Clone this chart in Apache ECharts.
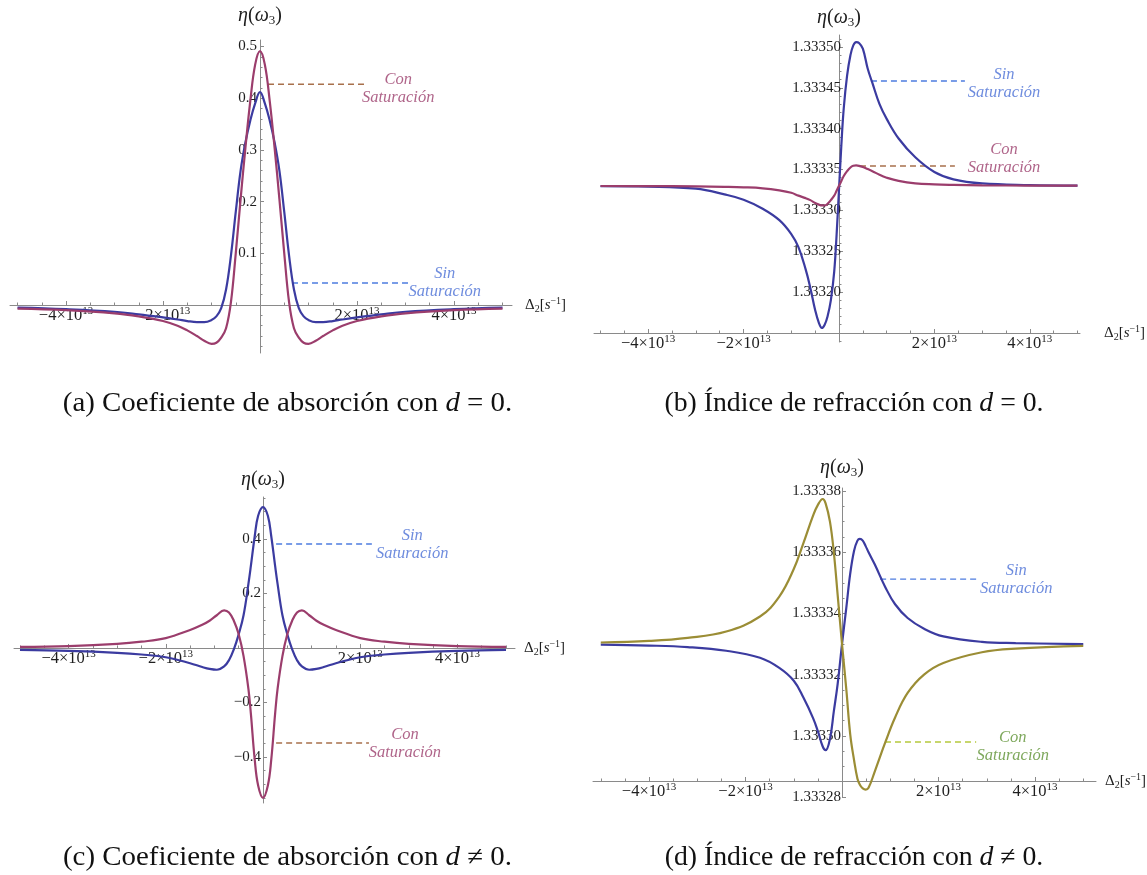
<!DOCTYPE html>
<html><head><meta charset="utf-8">
<script src="https://cdn.jsdelivr.net/npm/echarts@6/dist/echarts.min.js"></script>
<style>html,body{margin:0;padding:0;background:#fff}#c{width:1147px;height:875px}</style>
</head><body><div id="c"></div>
<script>
// ---------- DATA (Delta_2 in units of 1e13 s^-1) ----------
// (a) absorption, d = 0
const xA = [-5,-4,-3,-2.5,-2,-1.7,-1.5,-1.3,-1.15,-1,-0.9,-0.8,-0.7,-0.6,-0.5,-0.4,-0.3,-0.2,-0.1,0,0.1,0.2,0.3,0.4,0.5,0.6,0.7,0.8,0.9,1,1.15,1.3,1.5,1.7,2,2.5,3,4,5];
const sinA = [-0.005,-0.008,-0.013,-0.018,-0.024,-0.028,-0.031,-0.033,-0.033,-0.029,-0.022,-0.006,0.03,0.095,0.18,0.26,0.315,0.357,0.39,0.412,0.39,0.357,0.315,0.26,0.18,0.095,0.03,-0.006,-0.022,-0.029,-0.033,-0.033,-0.031,-0.028,-0.024,-0.018,-0.013,-0.008,-0.005];
const conA = [-0.007,-0.01,-0.016,-0.022,-0.031,-0.04,-0.049,-0.06,-0.069,-0.075,-0.073,-0.063,-0.045,0.005,0.1,0.205,0.305,0.395,0.465,0.491,0.465,0.395,0.305,0.205,0.1,0.005,-0.045,-0.063,-0.073,-0.075,-0.069,-0.06,-0.049,-0.04,-0.031,-0.022,-0.016,-0.01,-0.007];

// (b) refraction index, d = 0
const xB = [-5,-4,-3,-2.4,-2,-1.6,-1.25,-1,-0.85,-0.7,-0.6,-0.5,-0.42,-0.36,-0.3,-0.24,-0.17,-0.1,-0.05,0,0.05,0.1,0.17,0.24,0.3,0.36,0.42,0.5,0.6,0.7,0.85,1,1.25,1.6,2,2.4,3,4,5];
const sinB = [1.3333295,1.333329,1.3333265,1.3333195,1.333313,1.333302,1.333288,1.333271,1.333255,1.333228,1.333205,1.333178,1.333162,1.333156,1.33316,1.33317,1.33319,1.333225,1.33327,1.333325,1.33338,1.333425,1.333465,1.33349,1.333502,1.333506,1.333505,1.333498,1.333474,1.333456,1.33343,1.333412,1.333388,1.333365,1.333347,1.333338,1.333333,1.333331,1.3333303];
const conB = [1.3333298,1.3333297,1.3333294,1.3333288,1.3333282,1.333327,1.3333245,1.3333215,1.333318,1.333315,1.3333125,1.333309,1.333307,1.333306,1.333306,1.333308,1.3333125,1.333318,1.333324,1.33333,1.333336,1.333342,1.333348,1.3333525,1.3333545,1.333355,1.3333545,1.333353,1.3333505,1.333348,1.3333435,1.33334,1.333336,1.333333,1.3333318,1.3333312,1.3333306,1.3333303,1.3333302];

// (c) absorption, d != 0
const xC = [-5,-4,-3,-2.5,-2,-1.5,-1.25,-1.1,-0.95,-0.8,-0.7,-0.6,-0.5,-0.4,-0.3,-0.25,-0.17,-0.1,0,0.1,0.17,0.25,0.3,0.4,0.5,0.6,0.7,0.8,0.95,1.1,1.25,1.5,2,2.5,3,4,5];
const sinC = [-0.007,-0.011,-0.018,-0.024,-0.034,-0.056,-0.07,-0.077,-0.08,-0.068,-0.045,-0.005,0.05,0.12,0.235,0.30,0.41,0.485,0.517,0.485,0.41,0.30,0.235,0.12,0.05,-0.005,-0.045,-0.068,-0.08,-0.077,-0.07,-0.056,-0.034,-0.024,-0.018,-0.011,-0.007];
const conC = [0.004,0.007,0.015,0.023,0.036,0.066,0.085,0.1,0.12,0.138,0.13,0.1,0.05,-0.03,-0.15,-0.24,-0.41,-0.505,-0.55,-0.505,-0.41,-0.24,-0.15,-0.03,0.05,0.1,0.13,0.138,0.12,0.1,0.085,0.066,0.036,0.023,0.015,0.007,0.004];

// (d) refraction index, d != 0
const xD = [-5,-4,-3.2,-2.4,-1.7,-1.3,-1,-0.8,-0.6,-0.5,-0.4,-0.34,-0.25,-0.17,-0.09,0,0.09,0.17,0.25,0.32,0.37,0.43,0.49,0.55,0.68,0.9,1.1,1.36,1.7,2.1,2.9,3.6,5];
const sinD = [1.3333298,1.3333295,1.333329,1.3333278,1.3333255,1.3333222,1.333318,1.3333125,1.3333058,1.3333015,1.3332965,1.3332953,1.333299,1.333308,1.333317,1.33333,1.333342,1.333353,1.3333605,1.3333638,1.3333644,1.3333638,1.333362,1.33336,1.333356,1.3333485,1.333343,1.3333385,1.333335,1.3333325,1.3333307,1.3333303,1.33333];
const conD = [1.3333305,1.333331,1.333332,1.3333341,1.333339,1.3333455,1.3333545,1.333363,1.333372,1.3333755,1.3333774,1.333376,1.33337,1.33336,1.333346,1.33333,1.333315,1.3333005,1.333292,1.333286,1.333284,1.3332828,1.3332824,1.333283,1.3332884,1.333298,1.333306,1.333314,1.33332,1.3333238,1.3333273,1.3333285,1.3333294];

// tick labels
const xTickValues = [-4, -2, 2, 4];
const xTickLabels = ['\u22124\u00d710', '\u22122\u00d710', '2\u00d710', '4\u00d710'];
const xTickExponent = '13';
const yTicksA = [0.1, 0.2, 0.3, 0.4, 0.5];
const yTicksB = [1.3332, 1.33325, 1.3333, 1.33335, 1.3334, 1.33345, 1.3335];
const yTicksC = [-0.4, -0.2, 0.2, 0.4];
const yTicksD = [1.33328, 1.3333, 1.33332, 1.33334, 1.33336, 1.33338];

// annotations (data coordinates)
const notesA = [
  {label: 'Con', x0: 0.165, x1: 2.21, y: 0.427, tx: 2.85, ty: 0.419, kind: 'con'},
  {label: 'Sin', x0: 0.66, x1: 3.07, y: 0.0425, tx: 3.81, ty: 0.0435, kind: 'sin'}
];
const notesB = [
  {label: 'Sin', x0: 0.67, x1: 2.64, y: 1.3334584, tx: 3.46, ty: 1.3334553, kind: 'sin'},
  {label: 'Con', x0: 0.44, x1: 2.43, y: 1.3333543, tx: 3.46, ty: 1.3333629, kind: 'con'}
];
const notesC = [
  {label: 'Sin', x0: 0.27, x1: 2.24, y: 0.3817, tx: 3.07, ty: 0.378, kind: 'sin'},
  {label: 'Con', x0: 0.27, x1: 2.18, y: -0.3486, tx: 2.92, ty: -0.350, kind: 'con'}
];
const notesD = [
  {label: 'Sin', x0: 0.79, x1: 2.78, y: 1.3333512, tx: 3.61, ty: 1.3333511, kind: 'sin'},
  {label: 'Con', x0: 0.89, x1: 2.78, y: 1.333298, tx: 3.54, ty: 1.3332965, kind: 'conD'}
];

const captions = [
  '(a) Coeficiente de absorci\u00f3n con {i|d} = 0.',
  '(b) \u00cdndice de refracci\u00f3n con {i|d} = 0.',
  '(c) Coeficiente de absorci\u00f3n con {i|d} \u2260 0.',
  '(d) \u00cdndice de refracci\u00f3n con {i|d} \u2260 0.'
];

// ---------- STYLE / LAYOUT ----------
const SERIF = '"Liberation Serif", "Times New Roman", serif';
const C_SIN = '#3b3ba0', C_CON = '#9b3d6c', C_COND = '#9b8d35';
const noteStyle = {
  sin:  {text: '#4a6fd6', dash: '#4d7ce0'},
  con:  {text: '#9b3d6c', dash: '#a8704c'},
  conD: {text: '#5d9132', dash: '#b5c93c'}
};
const AX = '#8a8a8a';
const TXT = '#1e1e1e';

const panels = [
  {left: 10, top: 40, width: 502, height: 313, xMin: -5.155, xMax: 5.196, yMin: -0.0928, yMax: 0.5126, xOff: null,
   xs: xA, sin: sinA, con: conA, conColor: C_CON, notes: notesA, yTicks: yTicksA, yMinorStep: 0.02, yFmt: v => v.toFixed(1),
   xNameGap: 13, yNameGap: 13, yLabelMargin: 3},
  {left: 594, top: 35, width: 486, height: 307, xMin: -5.136, xMax: 5.053, yMin: 1.3331388, yMax: 1.3335147, xOff: -9,
   xs: xB, sin: sinB, con: conB, conColor: C_CON, notes: notesB, yTicks: yTicksB, yMinorStep: 0.00001, yFmt: v => v.toFixed(5),
   xNameGap: 24, yNameGap: 6, yLabelMargin: -2},
  {left: 14, top: 497, width: 501, height: 306, xMin: -5.123, xMax: 5.185, yMin: -0.569, yMax: 0.554, xOff: null,
   xs: xC, sin: sinC, con: conC, conColor: C_CON, notes: notesC, yTicks: yTicksC, yMinorStep: 0.05,
   yFmt: v => (v < 0 ? '\u2212' : '') + Math.abs(v).toFixed(1),
   xNameGap: 9, yNameGap: 6, yLabelMargin: 2},
  {left: 593, top: 488, width: 503, height: 309, xMin: -5.161, xMax: 5.264, yMin: 1.33328, yMax: 1.333381, xOff: -16,
   xs: xD, sin: sinD, con: conD, conColor: C_COND, notes: notesD, yTicks: yTicksD, yMinorStep: 0.000005, yFmt: v => v.toFixed(5),
   xNameGap: 9, yNameGap: 9, yLabelMargin: 1}
];

function steps(a, b, s, exclude) {
  const out = [];
  const n = Math.round((b - a) / s);
  for (let i = 0; i <= n; i++) {
    const v = +(a + i * s).toFixed(8);
    if (!exclude.some(e => Math.abs(e - v) < s / 10) && Math.abs(v) > s / 10) out.push(v);
  }
  return out;
}

const grids = [], xAxes = [], yAxes = [], series = [];
const tickLine = {color: AX, width: 1};

panels.forEach((p, g) => {
  grids.push({left: p.left, top: p.top, width: p.width, height: p.height, containLabel: false, outerBoundsMode: 'none'});
  // axis crossing positions (Mathematica style axes through the origin)
  const zeroX = p.left + (0 - p.xMin) / (p.xMax - p.xMin) * p.width;
  const yOff = -(zeroX - p.left);
  let xOff = p.xOff;
  if (xOff === null) {
    const zeroY = p.top + (p.yMax - 0) / (p.yMax - p.yMin) * p.height;
    xOff = -(p.top + p.height - zeroY);
  }
  const xMinor = steps(-5, 5, 0.5, xTickValues);
  const yLo = Math.ceil(p.yMin / p.yMinorStep) * p.yMinorStep;
  const yMinor = steps(yLo, p.yMax, p.yMinorStep, p.yTicks).filter(v => v >= p.yMin && v <= p.yMax);
  xAxes.push({
    gridIndex: g, type: 'value', min: p.xMin, max: p.xMax, position: 'bottom', offset: xOff,
    axisLine: {show: true, onZero: false, lineStyle: {color: AX, width: 1}},
    axisTick: {show: true, inside: true, length: 4, customValues: xTickValues, lineStyle: tickLine},
    axisLabel: {show: true, margin: 1, customValues: xTickValues,
      formatter: v => { const i = xTickValues.indexOf(Math.round(v)); return '{b|' + xTickLabels[i] + '}{s|' + xTickExponent + '}'; },
      rich: {b: {fontFamily: SERIF, fontSize: 16.5, color: TXT, lineHeight: 18, verticalAlign: 'bottom'},
             s: {fontFamily: SERIF, fontSize: 11, color: TXT, lineHeight: 18, verticalAlign: 'top'}}},
    splitLine: {show: false},
    name: '{n|\u0394}{sub|2}{n|[}{i|s}{sup|\u22121}{n|]}', nameLocation: 'end', nameGap: p.xNameGap, nameMoveOverlap: false,
    nameTextStyle: {rich: {
      n: {fontFamily: SERIF, fontSize: 15, color: TXT, lineHeight: 18},
      i: {fontFamily: SERIF, fontSize: 15, fontStyle: 'italic', color: TXT, lineHeight: 18},
      sub: {fontFamily: SERIF, fontSize: 10, color: TXT, lineHeight: 18, verticalAlign: 'bottom'},
      sup: {fontFamily: SERIF, fontSize: 10, color: TXT, lineHeight: 18, verticalAlign: 'top'}}}
  });
  xAxes.push({
    gridIndex: g, type: 'value', min: p.xMin, max: p.xMax, position: 'bottom', offset: xOff,
    axisLine: {show: false, onZero: false},
    axisTick: {show: true, inside: true, length: 2.5, customValues: xMinor, lineStyle: tickLine},
    axisLabel: {show: false}, splitLine: {show: false}
  });
  yAxes.push({
    gridIndex: g, type: 'value', min: p.yMin, max: p.yMax, position: 'left', offset: yOff,
    axisLine: {show: true, onZero: false, lineStyle: {color: AX, width: 1}},
    axisTick: {show: true, inside: true, length: 4, customValues: p.yTicks, lineStyle: tickLine},
    axisLabel: {show: true, margin: p.yLabelMargin, customValues: p.yTicks, formatter: p.yFmt,
      fontFamily: SERIF, fontSize: 15, color: TXT},
    splitLine: {show: false},
    name: '{i|\u03b7}{n|(}{i|\u03c9}{sub|3}{n|)}', nameLocation: 'end', nameGap: p.yNameGap, nameMoveOverlap: false,
    nameTextStyle: {rich: {
      n: {fontFamily: SERIF, fontSize: 20, color: TXT, lineHeight: 22},
      i: {fontFamily: SERIF, fontSize: 20, fontStyle: 'italic', color: TXT, lineHeight: 22},
      sub: {fontFamily: SERIF, fontSize: 13, color: TXT, lineHeight: 22, verticalAlign: 'bottom'}}}
  });
  yAxes.push({
    gridIndex: g, type: 'value', min: p.yMin, max: p.yMax, position: 'left', offset: yOff,
    axisLine: {show: false, onZero: false},
    axisTick: {show: true, inside: true, length: 2.5, customValues: yMinor, lineStyle: tickLine},
    axisLabel: {show: false}, splitLine: {show: false}
  });

  const line = (ys, color) => ({
    type: 'line', xAxisIndex: 2 * g, yAxisIndex: 2 * g, data: p.xs.map((x, i) => [x, ys[i]]),
    smooth: 0.4, symbol: 'none', showSymbol: false, silent: true, clip: false,
    lineStyle: {color: color, width: 2.2}, z: 3
  });
  series.push(line(p.sin, C_SIN));
  series.push(line(p.con, p.conColor));

  p.notes.forEach(n => {
    const st = noteStyle[n.kind];
    series.push({
      type: 'line', xAxisIndex: 2 * g, yAxisIndex: 2 * g, data: [[n.x0, n.y], [n.x1, n.y]],
      symbol: 'none', silent: true, lineStyle: {color: st.dash, width: 1.4, type: [6, 4]}, z: 2
    });
    series.push({
      type: 'scatter', xAxisIndex: 2 * g, yAxisIndex: 2 * g, data: [[n.tx, n.ty]],
      symbolSize: 1, itemStyle: {color: 'rgba(0,0,0,0)'}, silent: true, z: 4,
      label: {show: true, position: 'inside', align: 'center', verticalAlign: 'middle',
        formatter: () => '{t|' + n.label + '}\n{t|Saturaci\u00f3n}',
        rich: {t: {fontFamily: SERIF, fontStyle: 'italic', fontSize: 16.5, lineHeight: 18, color: st.text, align: 'center'}}}
    });
  });
});

const capPos = [[287.5, 404], [854, 404], [287.5, 858], [854, 858]];
const capScale = [1.07, 1.027, 1.07, 1.027];
const graphic = captions.map((t, i) => ({
  type: 'text', x: capPos[i][0], y: capPos[i][1], scaleX: capScale[i], silent: true,
  style: {text: t, align: 'center', verticalAlign: 'middle', fontFamily: SERIF, fontSize: 27, fill: '#111',
    rich: {i: {fontFamily: SERIF, fontSize: 27, fontStyle: 'italic', fill: '#111'}}}
}));

const chart = echarts.init(document.getElementById('c'), null, {renderer: 'canvas'});
chart.setOption({
  animation: false, backgroundColor: '#fff',
  grid: grids, xAxis: xAxes, yAxis: yAxes, series: series, graphic: graphic
});
</script></body></html>
